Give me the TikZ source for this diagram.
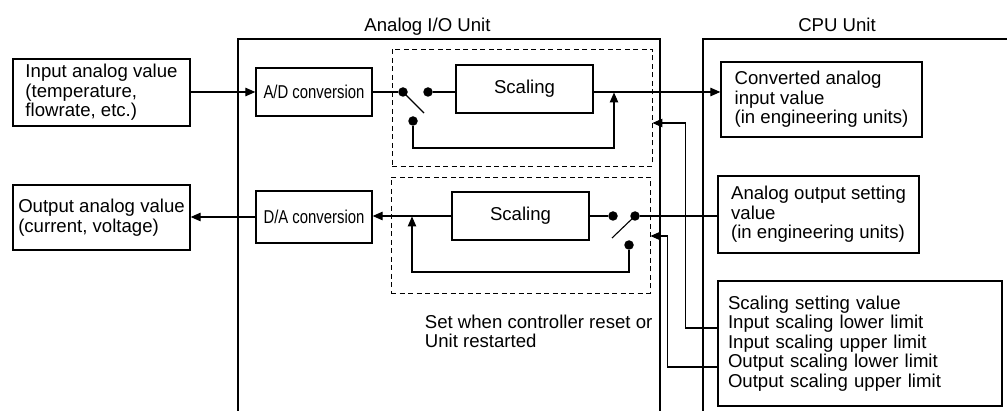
\documentclass[tikz,border=0pt]{standalone}
\usepackage{fontspec}
\setmainfont{Liberation Sans}
\newfontfamily\narrowfont[FakeStretch=0.8]{Liberation Sans}
\usetikzlibrary{arrows.meta, positioning}

\begin{document}
\begin{tikzpicture}[
    x=1pt, y=-1pt,
    font=\fontsize{18.6}{19.5}\selectfont,
    line width=1.1pt,
    box/.style={rectangle, draw, line width=1.3pt, align=left, inner sep=0pt},
    convbox/.style={rectangle, draw, line width=1.3pt, minimum width=116pt, inner sep=0pt, font=\narrowfont\fontsize{18.6}{19.5}\selectfont},
    scalebox/.style={rectangle, draw, line width=1.3pt, minimum width=137pt, minimum height=48pt},
    dot/.style={circle, fill, inner sep=0pt, minimum size=9.5pt},
    zone/.style={rectangle, draw, line width=0.9pt, dash pattern=on 5pt off 3.5pt, inner sep=0pt},
    arrow/.style={-{Triangle[length=10pt, width=8.5pt]}}
]
    \useasboundingbox (0,0) rectangle (1007,411);

    % Unit frames
    \node[anchor=base] (iotitle) at (427.5,32) {Analog I/O Unit};
    \node[anchor=base] (cputitle) at (837,32) {CPU Unit};
    \draw[line width=1.3pt] (238,411) -- (238,39) -- (660,39) -- (660,411);
    \draw[line width=1.3pt] (703,411) -- (703,39) -- (1007,39);

    % Outside values
    \node[box, minimum width=177pt, minimum height=67pt] (ain) at (101.5,92.5) {Input analog value\\(temperature,\\flowrate, etc.)};
    \node[box, minimum width=177pt, minimum height=65pt] (aout) at (101.5,217.5) {Output analog value\\(current, voltage)};

    % Conversion
    \node[convbox, minimum height=48pt] (ad) at (314,92) {A/D conversion};
    \node[convbox, minimum height=52pt] (da) at (314,217) {D/A conversion};

    % Scaling zones
    \node[zone, minimum width=260pt, minimum height=117pt] (zin) at (522,107.5) {};
    \node[zone, minimum width=259pt, minimum height=116pt] (zout) at (520.5,235) {};
    \node[scalebox] (scin) at (524.5,89) {Scaling};
    \node[scalebox] (scout) at (520.5,216) {Scaling};

    % CPU side
    \node[box, minimum width=201pt, minimum height=75pt] (conv) at (821.5,99.5) {Converted analog\\input value\\(in engineering units)};
    \node[box, minimum width=201pt, minimum height=77pt] (aset) at (818.5,214.5) {Analog output setting\\value\\(in engineering units)};
    \node[box, text width=264pt, inner xsep=10pt, minimum height=125pt] (sset) at (860,343.5) {Scaling setting value\\Input scaling lower limit\\Input scaling upper limit\\Output scaling lower limit\\Output scaling upper limit};

    \node[align=left, anchor=west] (note) at (421,331.5) {Set when controller reset or\\Unit restarted};

    % Input switch
    \node[dot] (swa) at (403,92) {};
    \node[dot] (swb) at (428,92) {};
    \node[dot] (swc) at (413,121) {};
    \coordinate (lvin) at (424,113);
    \coordinate (loopin) at (614,148);
    \coordinate (tapin) at (614,92.5);

    % Output switch
    \node[dot] (swd) at (613,216) {};
    \node[dot] (swe) at (635,216) {};
    \node[dot] (swf) at (629,245) {};
    \coordinate (lvout) at (612,238);
    \coordinate (loopout) at (412,272);
    \coordinate (tapout) at (412,216.5);

    % Input path
    \draw[arrow] (ain.east |- ad.west) -- (ad.west);
    \draw (ad.east) -- (swa);
    \draw (swa.center) -- (lvin);
    \draw (swb) -- (swb -| scin.west);
    \draw[arrow] (scin.east |- swb) -- (conv.west |- swb);
    \draw[arrow] (swc) |- (loopin) -- (tapin);

    % Output path
    \draw (aset.west |- swe) -- (swe);
    \draw (swe.center) -- (lvout);
    \draw (scout.east |- swd) -- (swd);
    \draw[arrow] (scout.west) -- (da.east |- scout.west);
    \draw[arrow] (swf) |- (loopout) -- (tapout);
    \draw[arrow] (da.west) -- (aout.east |- da.west);

    % Scaling settings
    \draw[arrow] ([yshift=15.5pt]sset.west) -- ++(-32,0) |- (zin.east |- 0,123);
    \draw[arrow] ([yshift=-23.5pt]sset.west) -- ++(-50,0) |- (zout.east |- 0,236);
\end{tikzpicture}
\end{document}
